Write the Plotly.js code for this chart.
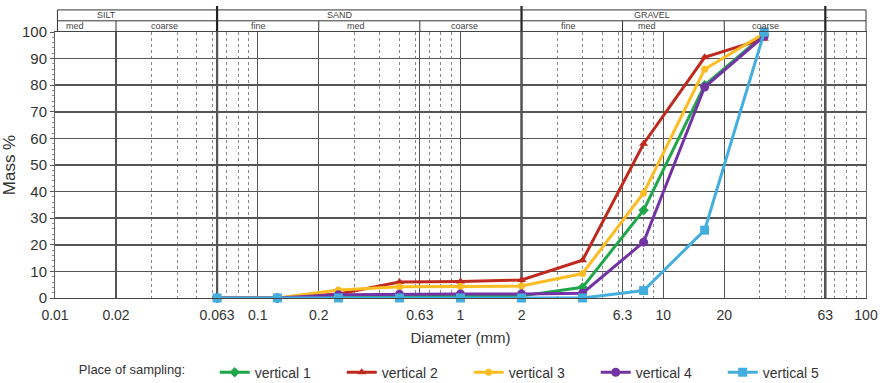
<!DOCTYPE html>
<html>
<head>
<meta charset="utf-8">
<script src="https://cdn.plot.ly/plotly-3.0.1.min.js"></script>
<style>html,body{margin:0;padding:0;background:#fff;}#chart{width:883px;height:383px;}</style>
</head>
<body>
<div id="chart"></div>
<script>
// Sieve sizes (mm)
const diameters = [0.063, 0.125, 0.25, 0.5, 1, 2, 4, 8, 16, 31.5];
const seriesNames = ["vertical 1", "vertical 2", "vertical 3", "vertical 4", "vertical 5"];
const vertical1 = [0, 0, 0.8, 0.8, 0.8, 0.8, 4, 33, 80, 99];
const vertical2 = [0, 0, 1.5, 6, 6.2, 6.8, 14.2, 58, 90.5, 97.5];
const vertical3 = [0, 0, 3, 4.2, 4.3, 4.5, 9.2, 39.5, 86, 99.5];
const vertical4 = [0, 0, 1.2, 1.4, 1.5, 1.5, 1.8, 21, 79.3, 98.5];
const vertical5 = [0, 0, 0, 0, 0, 0, 0, 2.8, 25.5, 100];
const seriesValues = [vertical1, vertical2, vertical3, vertical4, vertical5];
const seriesColors = ["#1fa64a", "#bf2a1e", "#fbbd23", "#7433a5", "#44aedf"];
const seriesSymbols = ["diamond", "triangle-up", "circle", "circle", "square"];
const seriesSizes = [8, 8, 7, 9, 9];

const xTickVals = [0.01, 0.02, 0.063, 0.1, 0.2, 0.63, 1, 2, 6.3, 10, 20, 63, 100];
const xTickText = ["0.01", "0.02", "0.063", "0.1", "0.2", "0.63", "1", "2", "6.3", "10", "20", "63", "100"];
const xMinorVals = [0.03,0.04,0.05,0.06,0.07,0.08,0.09, 0.3,0.4,0.5,0.6,0.7,0.8,0.9, 3,4,5,6,7,8,9, 30,40,50,60,70,80,90];
const majorBounds = [0.063, 2, 63];
const subBounds = [0.02, 0.2, 0.63, 6.3, 20];
const groupLabels = ["SILT", "SAND", "GRAVEL", "."];
const groupLabelPos = [0.064, 0.351, 0.736, 0.952];
const subLabels = ["med", "coarse", "fine", "med", "coarse", "fine", "med", "coarse"];
const subLabelPos = [0.0247, 0.1356, 0.2515, 0.371, 0.5055, 0.6326, 0.730, 0.8755];

const FONT = "Liberation Sans, Arial, sans-serif";

const traces = seriesNames.map((name, i) => ({
  type: "scatter", mode: "lines+markers", name: name,
  x: diameters, y: seriesValues[i],
  line: {color: seriesColors[i], width: 3},
  marker: {color: seriesColors[i], symbol: seriesSymbols[i], size: seriesSizes[i]},
  cliponaxis: false
}));

const hTop = 1.083, hMid = 1.042;
const shapes = [];
const lineCol = "#333";
shapes.push({type:"line", xref:"paper", yref:"paper", x0:0.003, x1:1, y0:hTop, y1:hTop, line:{color:lineCol, width:1}});
shapes.push({type:"line", xref:"paper", yref:"paper", x0:0.003, x1:1, y0:hMid, y1:hMid, line:{color:lineCol, width:1}});
shapes.push({type:"line", xref:"paper", yref:"paper", x0:0.003, x1:0.003, y0:1, y1:hTop, line:{color:lineCol, width:1}});
shapes.push({type:"line", xref:"paper", yref:"paper", x0:1, x1:1, y0:1, y1:hTop, line:{color:lineCol, width:1}});
majorBounds.forEach(v => shapes.push({type:"line", xref:"x", yref:"paper", x0:v, x1:v, y0:0, y1:1.098, line:{color:"#222", width:2.2}, layer:"below"}));
subBounds.forEach(v => shapes.push({type:"line", xref:"x", yref:"paper", x0:v, x1:v, y0:1, y1:hMid, line:{color:lineCol, width:1}}));

const annotations = [];
groupLabels.forEach((t, i) => annotations.push({text:t, xref:"paper", yref:"paper", x:groupLabelPos[i], y:1.063, xanchor:"center", yanchor:"middle", showarrow:false, font:{family:FONT, size:9, color:"#444"}}));
subLabels.forEach((t, i) => annotations.push({text:t, xref:"paper", yref:"paper", x:subLabelPos[i], y:1.021, xanchor:"center", yanchor:"middle", showarrow:false, font:{family:FONT, size:9, color:"#444"}}));

const layout = {
  width: 883, height: 383,
  margin: {l: 55, r: 17, t: 32, b: 85},
  paper_bgcolor: "#fff", plot_bgcolor: "#fff",
  font: {family: FONT, color: "#333"},
  showlegend: true,
  legend: {
    orientation: "h", xref: "container", yref: "container",
    x: 0.087, xanchor: "left", y: 0.027, yanchor: "middle",
    title: {text: "Place of sampling:&nbsp;&nbsp;&nbsp;&nbsp;&nbsp;&nbsp;", side: "left", font: {family: FONT, size: 13, color: "#333"}},
    font: {family: FONT, size: 14, color: "#333"},
    entrywidth: 82, itemwidth: 30, tracegroupgap: 0
  },
  xaxis: {
    type: "log", range: [-2, 2],
    tickmode: "array", tickvals: xTickVals, ticktext: xTickText,
    tickfont: {family: FONT, size: 14, color: "#333"},
    ticklabelstandoff: 4,
    showgrid: true, gridcolor: "#555", gridwidth: 1.2,
    showline: true, linecolor: "#444", linewidth: 1.2, mirror: true,
    ticks: "", zeroline: false,
    minor: {tickmode: "array", tickvals: xMinorVals, showgrid: true, gridcolor: "#888", griddash: "dot", gridwidth: 1},
    title: {text: "Diameter (mm)", font: {family: FONT, size: 15, color: "#333"}, standoff: 10}
  },
  yaxis: {
    range: [0, 100], dtick: 10, tick0: 0,
    tickfont: {family: FONT, size: 15, color: "#333"},
    showgrid: true, gridcolor: "#555", gridwidth: 1.5,
    showline: true, linecolor: "#666", linewidth: 1, mirror: true,
    ticks: "outside", ticklen: 4, tickcolor: "#555",
    minor: {dtick: 2, ticks: "outside", ticklen: 2, tickcolor: "#888", showgrid: false},
    zeroline: false,
    title: {text: "Mass %", font: {family: FONT, size: 17, color: "#333"}, standoff: 3}
  },
  shapes: shapes,
  annotations: annotations
};

Plotly.newPlot("chart", traces, layout, {displayModeBar: false, staticPlot: true});
</script>
</body>
</html>
